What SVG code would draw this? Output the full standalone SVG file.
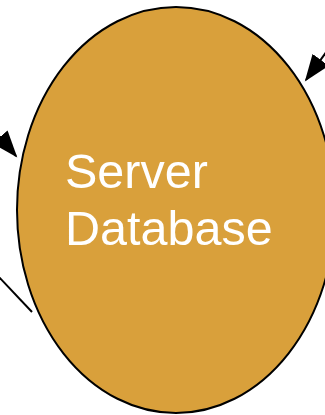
<svg xmlns="http://www.w3.org/2000/svg" width="325" height="415" viewBox="0 0 325 415">
<style>
.node{fill:#D9A03B;stroke:#000;stroke-width:2}
.lbl{font-family:"Liberation Sans",Arial,sans-serif;font-size:48.5px;fill:#fff}
.conn{stroke:#000;stroke-width:2;fill:none}
</style>
<defs>
<marker id="ah" markerUnits="userSpaceOnUse" markerWidth="28" markerHeight="21" refX="25" refY="10" orient="auto">
<path d="M0,0 L27,10 L0,20 z" fill="#000"/>
</marker>
</defs>
<rect width="325" height="415" fill="#fff"/>
<g id="server-database">
<ellipse class="node" cx="176" cy="210" rx="159" ry="203"/>
<text class="lbl" x="65" y="188">Server</text>
<text class="lbl" x="65" y="245">Database</text>
</g>
<g id="connectors">
<line class="conn" x1="343" y1="29" x2="306" y2="80" marker-end="url(#ah)"/>
<line class="conn" x1="-26" y1="106" x2="16" y2="156" marker-end="url(#ah)"/>
<line class="conn" x1="-20" y1="257" x2="32" y2="312"/>
</g>
</svg>
